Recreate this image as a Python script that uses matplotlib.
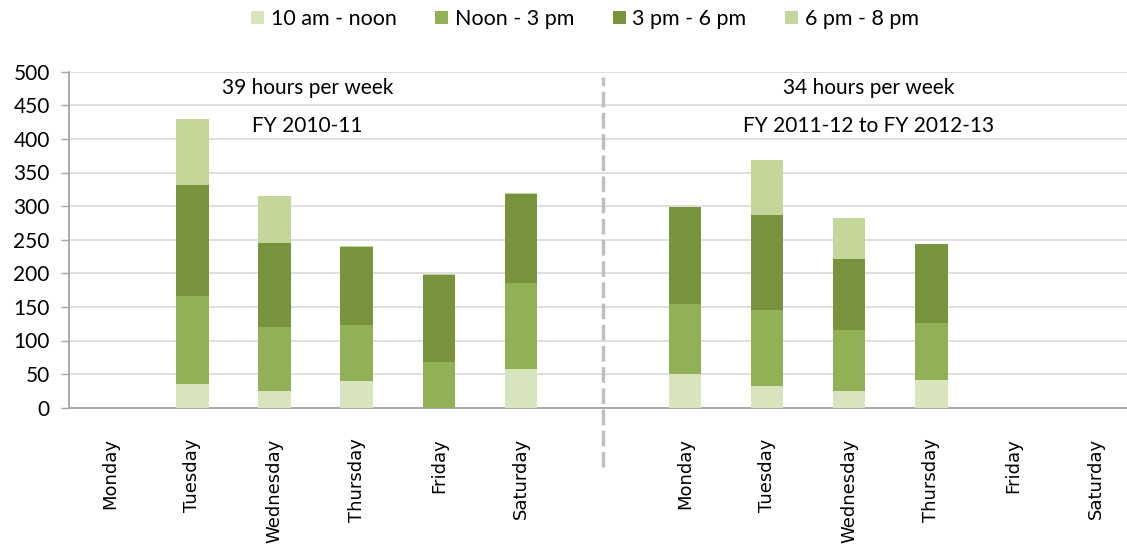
import numpy as np
import matplotlib.pyplot as plt

days = ["Monday", "Tuesday", "Wednesday", "Thursday", "Friday", "Saturday",
        "Monday", "Tuesday", "Wednesday", "Thursday", "Friday", "Saturday"]
slots = ["10 am - noon", "Noon - 3 pm", "3 pm - 6 pm", "6 pm - 8 pm"]

# visits per time slot, first six days FY 2010-11, last six FY 2011-12 to 2012-13
am_noon = [0, 35, 25, 39, 0, 58, 50, 33, 25, 41, 0, 0]
noon_3 = [0, 131, 95, 84, 68, 128, 105, 113, 91, 85, 0, 0]
pm_3_6 = [0, 165, 125, 116, 129, 132, 143, 141, 106, 117, 0, 0]
pm_6_8 = [0, 99, 70, 2, 2, 2, 1, 82, 61, 1, 0, 0]

colors = ["#d8e4bc", "#92b055", "#77933c", "#c4d79b"]

plt.rcParams["font.family"] = ["Lato", "DejaVu Sans"]

fig = plt.figure(figsize=(11.27, 5.44), dpi=100)
ax = fig.add_axes([69.3 / 1127, 136.3 / 544, 13 * 82.1 / 1127, 336 / 544])

# empty slot between the two periods
x = np.array([i if i < 6 else i + 1 for i in range(len(days))])
bottom = np.zeros(len(days))
for name, vals, c in zip(slots, [am_noon, noon_3, pm_3_6, pm_6_8], colors):
    ax.bar(x, vals, 0.395, bottom=bottom, color=c, label=name, zorder=3)
    bottom += np.array(vals)

ax.set_xlim(-0.5, 12.5)
ax.set_ylim(0, 500)
ax.set_yticks(range(0, 501, 50))
ax.yaxis.grid(True, color="#d9d9d9", linewidth=1.2, zorder=0)
ax.tick_params(axis="y", length=6, width=1, color="#a6a6a6", labelsize=15, pad=8)
ax.tick_params(axis="x", length=0, pad=22)
ax.set_xticks(x)
ax.set_xticklabels(days, rotation=90, ha="center", va="top",
                   family="DejaVu Sans", fontsize=13)
for s in ["top", "right"]:
    ax.spines[s].set_visible(False)
for s in ["left", "bottom"]:
    ax.spines[s].set_color("#a6a6a6")
    ax.spines[s].set_linewidth(1.3)

# dashed divider between the two schedules
ax.plot([6, 6], [-88, 492], color="#bfbfbf", linewidth=2.5,
        linestyle=(0, (4.5, 1.6)), clip_on=False, zorder=2)

ax.text(2.4, 476, "39 hours per week", ha="center", va="center", fontsize=15)
ax.text(2.4, 419, "FY 2010-11", ha="center", va="center", fontsize=15)
ax.text(9.24, 476, "34 hours per week", ha="center", va="center", fontsize=15)
ax.text(9.24, 419, "FY 2011-12 to FY 2012-13", ha="center", va="center", fontsize=15)

fig.legend(loc="center", bbox_to_anchor=(585 / 1127, 1 - 19 / 544), ncol=4,
           frameon=False, fontsize=15.5, handlelength=0.6, handleheight=0.6,
           handletextpad=0.3, columnspacing=1.8)

fig.savefig("out.png", dpi=100)
